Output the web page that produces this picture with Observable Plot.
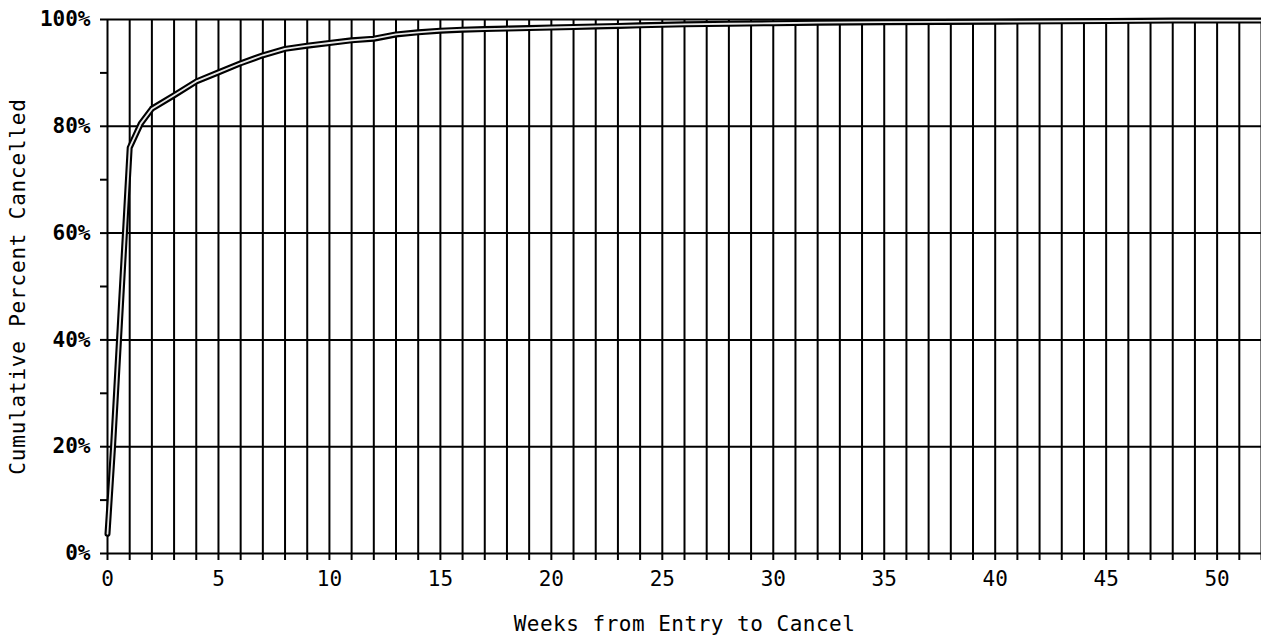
<!DOCTYPE html>
<html>
<head>
<meta charset="utf-8">
<script src="https://cdn.jsdelivr.net/npm/d3@7"></script>
<script src="https://cdn.jsdelivr.net/npm/@observablehq/plot@0.6"></script>
<style>
  html, body { margin: 0; padding: 0; background: #fff; }
  #chart svg { display: block; }
</style>
</head>
<body>
<div id="chart"></div>
<script>
// Cumulative percent cancelled by weeks from entry
const weeks = [0, 0.25, 1, 1.5, 2, 3, 4, 5, 6, 7, 8, 9, 10, 11, 12, 13, 14, 15, 16, 17, 18, 19, 20, 21, 22, 23, 24, 25, 26, 28, 30, 32, 35, 40, 45, 48, 52];
const pctCancelled = [3.7, 20, 76, 80.5, 83.3, 85.8, 88.4, 90.1, 91.8, 93.3, 94.5, 95.1, 95.6, 96.1, 96.4, 97.2, 97.6, 97.9, 98.1, 98.2, 98.3, 98.4, 98.5, 98.6, 98.7, 98.8, 98.9, 99.0, 99.1, 99.2, 99.3, 99.4, 99.5, 99.6, 99.7, 99.8, 99.8];

// Axis ticks / grid
const weekGrid = d3.range(0, 53, 1);
const weekLabels = [0, 5, 10, 15, 20, 25, 30, 35, 40, 45, 50];
const pctTicks = [0, 10, 20, 30, 40, 50, 60, 70, 80, 90, 100];
const pctGrid = [0, 20, 40, 60, 80, 100];
const xTitle = "Weeks from Entry to Cancel";
const yTitle = "Cumulative Percent Cancelled";

const data = weeks.map((w, i) => ({week: w, pct: pctCancelled[i]}));

const font = "'DejaVu Sans Mono', monospace";

const chart = Plot.plot({
  width: 1261,
  height: 643,
  marginLeft: 107,
  marginRight: 0,
  marginTop: 19,
  marginBottom: 90,
  style: {fontFamily: font, fontSize: "21px", color: "#000", background: "#fff"},
  x: {domain: [0, 52]},
  y: {domain: [0, 100]},
  marks: [
    Plot.ruleX(weekGrid, {x: d => d, stroke: "#000", strokeWidth: 2}),
    Plot.ruleY(pctGrid, {y: d => d, stroke: "#000", strokeWidth: 2}),
    Plot.axisX({
      ticks: weekGrid, tickSize: 7, tickPadding: 11, strokeWidth: 2,
      tickFormat: d => weekLabels.includes(d) ? String(d) : "",
      label: null, fontSize: 21
    }),
    Plot.axisY({
      ticks: pctTicks, tickSize: 7, tickPadding: 10, strokeWidth: 2,
      tickFormat: d => pctGrid.includes(d) ? d + "%" : "",
      fontWeight: "bold", fontSize: 21, label: null
    }),
    Plot.text([xTitle], {
      text: d => d, frameAnchor: "bottom", dy: 71,
      textAnchor: "middle", lineAnchor: "middle",
      fontSize: 21, fontFamily: font, fill: "#000"
    }),
    Plot.text([yTitle], {
      text: d => d, frameAnchor: "left", dx: -89, rotate: -90,
      textAnchor: "middle", lineAnchor: "middle",
      fontSize: 21, fontFamily: font, fill: "#000"
    }),
    Plot.line(data, {x: "week", y: "pct", stroke: "#000", strokeWidth: 6, strokeLinejoin: "round"}),
    Plot.line(data, {x: "week", y: "pct", stroke: "#e8e8e8", strokeWidth: 1.8, strokeLinejoin: "round"})
  ]
});

// modest letter spacing on the axis titles, as in the reference
chart.querySelectorAll("text").forEach(t => {
  if (t.textContent === xTitle) t.setAttribute("letter-spacing", "0.5");
  if (t.textContent === yTitle) t.setAttribute("letter-spacing", "0.8");
});

document.getElementById("chart").appendChild(chart);
</script>
</body>
</html>
